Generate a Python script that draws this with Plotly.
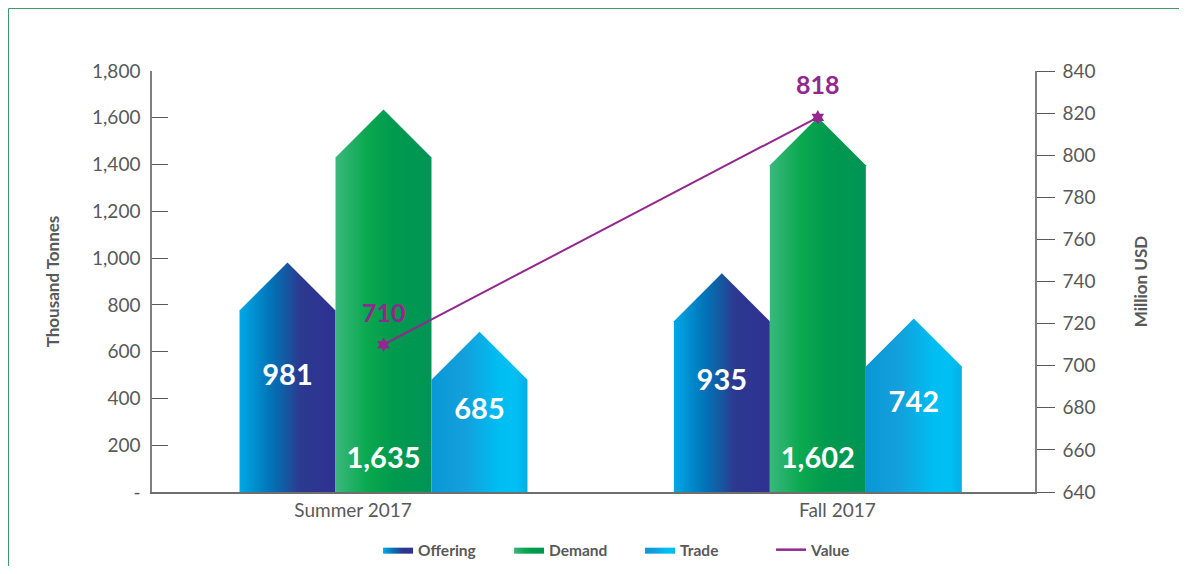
import plotly.graph_objects as go

# ---------------- data ----------------
categories = ["Summer 2017", "Fall 2017"]
offering = [981, 935]          # Thousand Tonnes
demand = [1635, 1602]          # Thousand Tonnes
trade = [685, 742]             # Thousand Tonnes
value_usd = [710, 818]         # Million USD
left_ticks = [0, 200, 400, 600, 800, 1000, 1200, 1400, 1600, 1800]
right_ticks = [640, 660, 680, 700, 720, 740, 760, 780, 800, 820, 840]

# ---------------- style ----------------
FONT = "Lato"
GREY = "#595959"
PURPLE = "#93278f"
BAR_W = 0.221          # bar width in category units
ARROW_TIP = 205        # arrow head height in left-axis units
DEMAND_LABEL_Y = 135   # demand labels sit near the bar base
X_LABEL_SHIFT = [-0.07, 1.045]

series = [
    ("Offering", offering, -1, [[0, "#00a8e6"], [0.3, "#0077bb"], [0.5, "#1656a0"],
                               [0.62, "#2c3a90"], [1, "#2e3192"]], "center"),
    ("Demand", demand, 0, [[0, "#3ab87c"], [0.33, "#0aa84f"], [0.6, "#009a4e"],
                          [1, "#009456"]], "base"),
    ("Trade", trade, 1, [[0, "#0a97d6"], [0.35, "#13a0db"], [0.7, "#00bdf2"],
                        [0.88, "#00c0f3"], [1, "#05aee4"]], "center"),
]

fig = go.Figure()

for name, vals, slot, cscale, lab in series:
    for i, v in enumerate(vals):
        xc = i + slot * BAR_W
        xl, xr = xc - BAR_W / 2, xc + BAR_W / 2
        shoulder = v - ARROW_TIP
        fig.add_trace(go.Scatter(
            x=[xl, xl, xc, xr, xr, xl],
            y=[0, shoulder, v, shoulder, 0, 0],
            mode="lines", fill="toself",
            line=dict(width=0),
            fillgradient=dict(type="horizontal", colorscale=cscale),
            name=name, legendgroup=name, showlegend=(i == 0),
            hoverinfo="skip",
        ))
    xs = [i + slot * BAR_W for i in range(len(vals))]
    ys = [DEMAND_LABEL_Y if lab == "base" else v / 2 for v in vals]
    fig.add_trace(go.Scatter(
        x=xs, y=ys, mode="text",
        text=[f"{v:,}" for v in vals],
        textfont=dict(family=FONT, size=29, color="white", weight="bold"),
        showlegend=False, hoverinfo="skip",
    ))

fig.add_trace(go.Scatter(
    x=list(range(len(categories))), y=value_usd, yaxis="y2",
    mode="lines+markers", name="Value", showlegend=False,
    line=dict(color=PURPLE, width=2),
    marker=dict(symbol="hexagram", size=11, color=PURPLE),
    hoverinfo="skip",
))
# legend entry for the value line (line only, as in the source)
fig.add_trace(go.Scatter(
    x=[None], y=[None], yaxis="y2", mode="lines", name="Value",
    line=dict(color=PURPLE, width=2.5), hoverinfo="skip",
))

annotations = []
for i, v in enumerate(value_usd):
    annotations.append(dict(
        x=i, y=v, xref="x", yref="y2", text=f"{v:,}", showarrow=False,
        yshift=33, font=dict(family=FONT, size=25, color=PURPLE, weight="bold"),
    ))

fig.update_layout(
    width=1171, height=558,
    margin=dict(l=144, r=144, t=63, b=74, autoexpand=False),
    paper_bgcolor="white", plot_bgcolor="white",
    font=dict(family=FONT, color=GREY),
    showlegend=True,
    legend=dict(orientation="h", x=0.256, xanchor="left", y=-0.138, yanchor="middle",
                font=dict(family=FONT, size=15.5, color=GREY, weight="bold"),
                itemwidth=30, tracegroupgap=0,
                entrywidth=86, entrywidthmode="pixels"),
    xaxis=dict(
        range=[-0.533, 1.5], showgrid=False, zeroline=False,
        tickvals=X_LABEL_SHIFT, ticktext=categories, ticks="",
        tickfont=dict(family=FONT, size=19, color=GREY),
        showline=True, linecolor="#6e6e6e", linewidth=1.5,
    ),
    yaxis=dict(
        range=[0, 1800], showgrid=False, zeroline=False,
        tickvals=left_ticks,
        ticktext=["-" if t == 0 else f"{t:,}" for t in left_ticks],
        ticks="inside", ticklen=16, tickcolor="#595959", tickwidth=1.3,
        tickfont=dict(family=FONT, size=19, color=GREY),
        showline=True, linecolor="#808080", linewidth=1.5,
        ticklabelstandoff=6,
        title=dict(text="Thousand Tonnes", standoff=28,
                   font=dict(family=FONT, size=17, color=GREY, weight="bold")),
    ),
    yaxis2=dict(
        range=[640, 840], overlaying="y", side="right", showgrid=False, zeroline=False,
        tickvals=right_ticks,
        ticks="outside", ticklen=18, tickcolor="#595959", tickwidth=1.3,
        tickfont=dict(family=FONT, size=19, color=GREY),
        showline=True, linecolor="#808080", linewidth=1.5,
        ticklabelstandoff=4,
        title=dict(text="Million USD", standoff=40,
                   font=dict(family=FONT, size=17, color=GREY, weight="bold")),
    ),
    annotations=annotations,
    shapes=[dict(type="rect", xref="paper", yref="paper",
                 x0=-0.1625, x1=1.3, y0=-0.35, y1=1.1485,
                 line=dict(color="#3a9a64", width=1), fillcolor="rgba(0,0,0,0)",
                 layer="below")],
)

fig.write_html("out.html")
